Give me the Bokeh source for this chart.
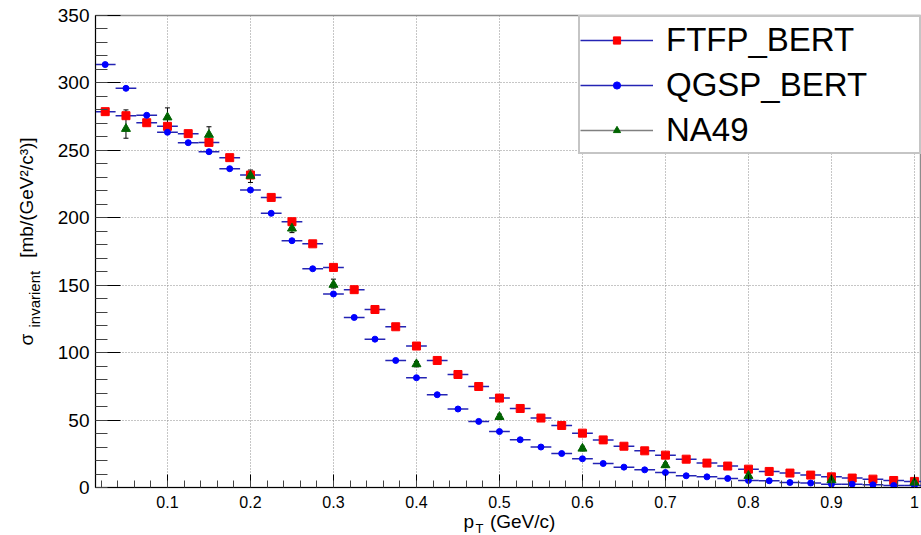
import numpy as np
from bokeh.plotting import figure
from bokeh.models import (Range1d, FixedTicker, Legend, LegendItem, Label, Whisker,
                          TeeHead, ColumnDataSource)
from bokeh.embed import file_html
from bokeh.resources import INLINE

# ---------------- data ----------------
pt = [0.025, 0.05, 0.075, 0.1, 0.125, 0.15, 0.175, 0.2, 0.225, 0.25,
      0.275, 0.3, 0.325, 0.35, 0.375, 0.4, 0.425, 0.45, 0.475, 0.5,
      0.525, 0.55, 0.575, 0.6, 0.625, 0.65, 0.675, 0.7, 0.725, 0.75,
      0.775, 0.8, 0.825, 0.85, 0.875, 0.9, 0.925, 0.95, 0.975, 1.0]
bin_half_width = 0.0125

ftfp = [278.7, 275.7, 270.5, 267.8, 262.4, 255.9, 244.6, 231.7, 215.1, 197.1,
        180.7, 163.2, 146.7, 132.0, 119.2, 104.9, 94.2, 83.8, 74.9, 66.3,
        58.6, 51.5, 46.0, 40.3, 35.3, 30.6, 27.2, 24.0, 21.0, 18.1,
        15.9, 13.6, 11.9, 10.7, 9.2, 7.9, 7.0, 6.2, 5.2, 4.5]

qgsp = [313.6, 296.0, 276.0, 263.4, 255.7, 249.0, 236.4, 220.6, 203.3, 183.0,
        162.2, 143.5, 126.1, 110.0, 94.2, 81.4, 68.8, 58.2, 49.0, 41.5,
        35.4, 30.0, 25.2, 21.3, 17.8, 15.1, 13.1, 11.1, 8.7, 7.9,
        6.7, 5.2, 5.0, 3.7, 3.3, 2.5, 2.5, 2.0, 1.5, 1.5]

na49_pt = [0.05, 0.1, 0.15, 0.2, 0.25, 0.3, 0.4, 0.5, 0.6, 0.7, 0.8, 0.9, 1.0]
na49 = [266.0, 274.5, 261.6, 231.2, 192.1, 150.4, 91.5, 52.4, 28.9, 16.6, 8.7, 5.5, 3.7]
na49_hi = [280.0, 281.5, 267.5, 235.4, 195.0, 154.5, 93.5, 54.4, 30.6, 18.2, 10.2, 7.0, 5.0]
na49_lo = [259.0, 268.0, 258.0, 226.2, 189.0, 147.9, 89.5, 50.4, 27.2, 15.0, 7.2, 4.0, 2.4]

x_major = [0.1, 0.2, 0.3, 0.4, 0.5, 0.6, 0.7, 0.8, 0.9, 1.0]
x_labels = ["0.1", "0.2", "0.3", "0.4", "0.5", "0.6", "0.7", "0.8", "0.9", "1"]
y_major = [0, 50, 100, 150, 200, 250, 300, 350]

FONT = "Liberation Sans"

# ---------------- figure ----------------
p = figure(width=921, height=535, output_backend="svg", toolbar_location=None,
           x_range=Range1d(0.0133, 1.0085), y_range=Range1d(0, 350),
           min_border_left=95, min_border_right=0, min_border_top=15, min_border_bottom=48)
p.background_fill_color = "white"
p.border_fill_color = "white"
p.outline_line_color = "#8c8c8c"
p.outline_line_width = 1.5

p.xaxis.ticker = FixedTicker(ticks=x_major, minor_ticks=list(np.round(np.arange(0.02, 1.0001, 0.02), 3)))
p.yaxis.ticker = FixedTicker(ticks=y_major, minor_ticks=list(range(0, 351, 10)))
p.xaxis.major_label_overrides = {t: l for t, l in zip(x_major, x_labels)}

for ax in (p.xaxis, p.yaxis):
    ax.axis_line_color = "black"
    ax.major_tick_line_color = "black"
    ax.minor_tick_line_color = "#444444"
    ax.major_tick_out = 0
    ax.minor_tick_out = 0
    ax.major_label_text_font = FONT
    ax.major_label_text_color = "black"
p.xaxis.major_tick_in = 13
p.xaxis.minor_tick_in = 7
p.yaxis.major_tick_in = 25
p.yaxis.minor_tick_in = 12
p.xaxis.major_label_text_font_size = "16px"
p.yaxis.major_label_text_font_size = "19px"
p.xaxis.major_label_standoff = 8
p.yaxis.major_label_standoff = 6

for g in (p.xgrid, p.ygrid):
    g.grid_line_color = "#8c8c8c"
    g.grid_line_dash = "1 2"
    g.grid_line_width = 1

# ---------------- series ----------------
err_color = "#2424b4"
src_f = ColumnDataSource(dict(x=pt, y=ftfp,
                              x0=[v - bin_half_width for v in pt], x1=[v + bin_half_width for v in pt]))
src_q = ColumnDataSource(dict(x=pt, y=qgsp,
                              x0=[v - bin_half_width for v in pt], x1=[v + bin_half_width for v in pt]))
src_n = ColumnDataSource(dict(x=na49_pt, y=na49, hi=na49_hi, lo=na49_lo,
                              blank=[np.nan] * len(na49_pt)))

seg_f = p.segment(x0="x0", y0="y", x1="x1", y1="y", source=src_f, line_color=err_color, line_width=1.5)
sc_f = p.scatter(x="x", y="y", source=src_f, marker="square", size=8,
                 fill_color="#ff0000", line_color="#ff0000")
seg_q = p.segment(x0="x0", y0="y", x1="x1", y1="y", source=src_q, line_color=err_color, line_width=1.5)
sc_q = p.scatter(x="x", y="y", source=src_q, marker="circle", size=6,
                 fill_color="#0000ff", line_color="#0000ff")

wh = Whisker(source=src_n, base="x", upper="hi", lower="lo", dimension="height",
             line_color="black", line_width=1,
             upper_head=TeeHead(size=5, line_color="black", line_width=1),
             lower_head=TeeHead(size=5, line_color="black", line_width=1))
p.add_layout(wh)
sc_n = p.scatter(x="x", y="y", source=src_n, marker="triangle", size=9,
                 fill_color="#006400", line_color="#006400")
leg_line_n = p.line(x="x", y="blank", source=src_n, line_color="#808080", line_width=1.5)

legend = Legend(items=[
    LegendItem(label="FTFP_BERT", renderers=[seg_f, sc_f]),
    LegendItem(label="QGSP_BERT", renderers=[seg_q, sc_q]),
    LegendItem(label="NA49", renderers=[leg_line_n, sc_n]),
], location="top_right")
legend.margin = 0
legend.padding = 0
legend.spacing = 0
legend.glyph_width = 73
legend.glyph_height = 18
legend.label_height = 45
legend.label_width = 253
legend.label_standoff = 13
legend.label_text_font = FONT
legend.label_text_font_size = "33px"
legend.label_text_color = "black"
legend.border_line_color = "#8c8c8c"
legend.border_line_width = 2
legend.background_fill_color = "white"
legend.background_fill_alpha = 1.0
p.add_layout(legend)

# ---------------- axis titles (in side panels, which are not clipped) ----------------
def lab(text, x, y, size, angle=0.0):
    return Label(x=x, y=y, x_units="screen", y_units="screen", text=text, angle=angle,
                 text_font=FONT, text_font_size=size, text_baseline="alphabetic",
                 text_align="left", text_color="black")

NB = "\u00a0"
EM = "\u2003"
# below panel (x from frame left, y up from panel bottom)
p.add_layout(lab("p" + NB * 3 + "(GeV/c)", 368, 10, "19px"), "below")

# left panels, stacked outward from the y axis
p.add_layout(lab("T", 429, -41, "13px"), "left")
p.add_layout(lab("invarient", 5, 160, "15px", np.pi / 2), "left")
p.add_layout(lab("σ" + EM * 4 + "[mb/(GeV²/c³)]", 18, 142, "19px", np.pi / 2), "left")

open("out.html", "w").write(file_html(p, INLINE))
